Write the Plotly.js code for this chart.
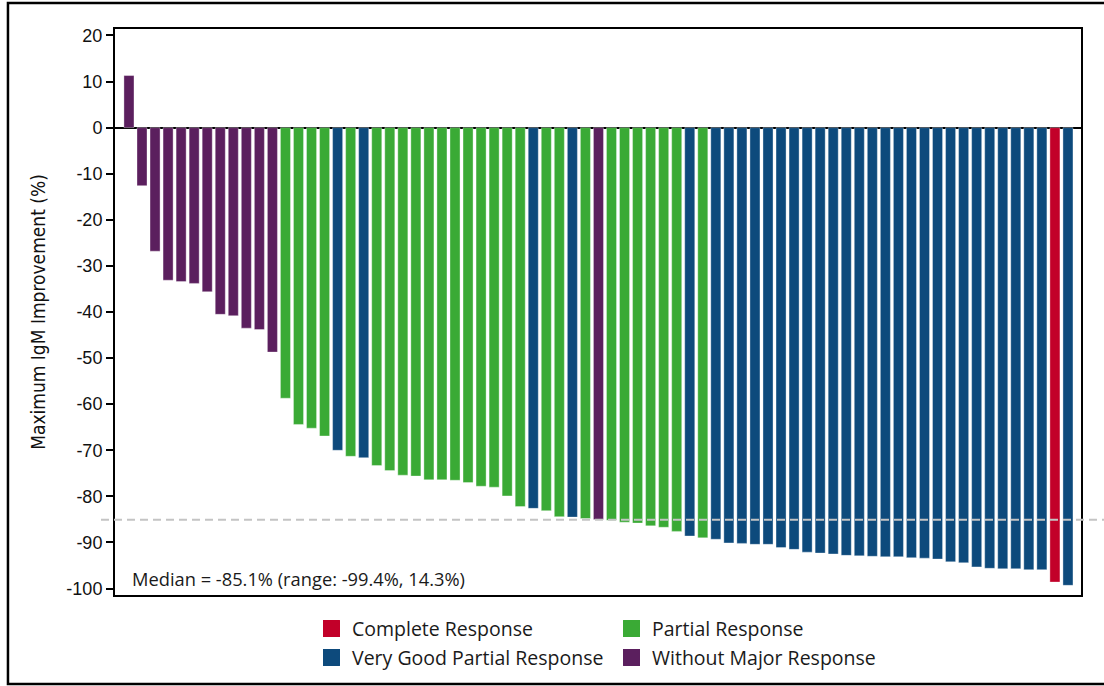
<!DOCTYPE html>
<html>
<head>
<meta charset="utf-8">
<script src="https://cdn.plot.ly/plotly-3.0.1.min.js"></script>
<style>html,body{margin:0;padding:0;background:#fff;}#chart{width:1104px;height:686px;}</style>
</head>
<body>
<div id="chart"></div>
<script>
// ---- data ----
const values = [
  11.3, -12.6, -26.8, -33.1, -33.4, -33.8, -35.6, -40.5, -40.8, -43.5, -43.8, -48.7,
  -58.7, -64.4, -65.2, -66.9, -70.0, -71.3, -71.6, -73.3, -74.4, -75.4, -75.6, -76.4,
  -76.4, -76.5, -77.0, -77.8, -78.0, -79.9, -82.2, -82.6, -83.1, -84.4, -84.5, -84.8,
  -85.0, -85.2, -85.6, -85.8, -86.4, -86.7, -87.6, -88.6, -89.0, -89.3,
  -90.1, -90.2, -90.4, -90.4, -91.1, -91.5, -92.1, -92.3, -92.5, -92.8, -92.9, -93.0,
  -93.1, -93.1, -93.3, -93.4, -93.6, -94.2, -94.4, -95.3, -95.6, -95.7, -95.7, -95.9,
  -95.9, -98.6, -99.3
];
const responses = [
  'WMR','WMR','WMR','WMR','WMR','WMR','WMR','WMR','WMR','WMR','WMR','WMR',
  'PR','PR','PR','PR','VGPR','PR','VGPR','PR','PR','PR','PR','PR',
  'PR','PR','PR','PR','PR','PR','PR','VGPR','PR','PR','VGPR','PR',
  'WMR','PR','PR','PR','PR','PR','PR','VGPR','PR','VGPR',
  'VGPR','VGPR','VGPR','VGPR','VGPR','VGPR','VGPR','VGPR','VGPR','VGPR','VGPR','VGPR',
  'VGPR','VGPR','VGPR','VGPR','VGPR','VGPR','VGPR','VGPR','VGPR','VGPR','VGPR','VGPR',
  'VGPR','CR','VGPR'
];
const categoryKeys = ['CR', 'PR', 'VGPR', 'WMR'];
const categoryNames = ['Complete Response', 'Partial Response', 'Very Good Partial Response', 'Without Major Response'];
const categoryColors = ['#c20029', '#3aaa35', '#0d4a7c', '#5b1f5e'];
const yTicks = [20, 10, 0, -10, -20, -30, -40, -50, -60, -70, -80, -90, -100];
const medianValue = -85.1;
const rangeMin = -99.4;
const rangeMax = 14.3;
const yTitle = 'Maximum IgM Improvement (%)';

// ---- traces ----
const traces = categoryKeys.map((key, k) => {
  const xs = [], ys = [];
  values.forEach((v, i) => { if (responses[i] === key) { xs.push(i); ys.push(v); } });
  return {
    type: 'bar', name: categoryNames[k], x: xs, y: ys, width: 0.77,
    marker: { color: categoryColors[k], line: { color: 'rgba(255,255,255,0.35)', width: 1 } },
    showlegend: false, hoverinfo: 'y'
  };
});

const legendFont = { family: '"Open Sans", Lato, sans-serif', size: 19.5, color: '#1a1a1a' };
const shapes = [
  // outer frame
  { type: 'rect', xref: 'paper', yref: 'paper', x0: -0.1108, x1: 1.06, y0: -0.1572, y1: 1.0459,
    line: { color: '#000', width: 2.5 }, layer: 'below' },
  // median line
  { type: 'line', xref: 'paper', yref: 'y', x0: -0.0145, x1: 1.06, y0: medianValue, y1: medianValue,
    line: { color: '#c4c4c4', width: 2, dash: '8px,5px' }, layer: 'above' }
];
const annotations = [
  { xref: 'paper', yref: 'paper', x: 0.0155, y: 0.030, xanchor: 'left', yanchor: 'middle', showarrow: false,
    text: 'Median = ' + medianValue + '% (range: ' + rangeMin + '%, ' + rangeMax + '%)',
    font: { family: '"Open Sans", Lato, sans-serif', size: 18.3, color: '#1a1a1a' } }
];
// manual two-column legend
const legX = [0.2153, 0.5259];
const legY = [[-0.0442, -0.0742], [-0.0954, -0.1254]];
categoryNames.forEach((name, k) => {
  const col = k % 2, row = Math.floor(k / 2);
  shapes.push({ type: 'rect', xref: 'paper', yref: 'paper',
    x0: legX[col], x1: legX[col] + 0.0176, y0: legY[row][1], y1: legY[row][0],
    fillcolor: categoryColors[k], line: { width: 0 } });
  annotations.push({ xref: 'paper', yref: 'paper', x: legX[col] + 0.028, y: (legY[row][0] + legY[row][1]) / 2,
    xanchor: 'left', yanchor: 'middle', showarrow: false, text: name, font: legendFont });
});

const layout = {
  width: 1104, height: 686,
  margin: { l: 115, r: 23, t: 29, b: 91 },
  paper_bgcolor: '#fff', plot_bgcolor: '#fff',
  barmode: 'overlay', bargap: 0,
  showlegend: false,
  xaxis: {
    range: [-1.07, 73.0], showticklabels: false, ticks: '', showgrid: false, zeroline: false,
    showline: true, mirror: true, linecolor: '#000', linewidth: 2, fixedrange: true
  },
  yaxis: {
    range: [-101.4, 21.4], tickvals: yTicks, ticktext: yTicks.map(String),
    ticks: 'outside', ticklen: 7, tickwidth: 2, tickcolor: '#000',
    tickfont: { family: '"Liberation Sans", Arial, sans-serif', size: 18, color: '#111' },
    showgrid: false, zeroline: true, zerolinecolor: '#000', zerolinewidth: 2,
    showline: true, mirror: true, linecolor: '#000', linewidth: 2,
    title: { text: yTitle, standoff: 16,
      font: { family: '"Liberation Sans Narrow", "DejaVu Sans Condensed", "Arial Narrow", sans-serif', size: 19, color: '#111' } },
    fixedrange: true
  },
  shapes: shapes,
  annotations: annotations
};

Plotly.newPlot('chart', traces, layout, { displayModeBar: false, staticPlot: true });
</script>
</body>
</html>
